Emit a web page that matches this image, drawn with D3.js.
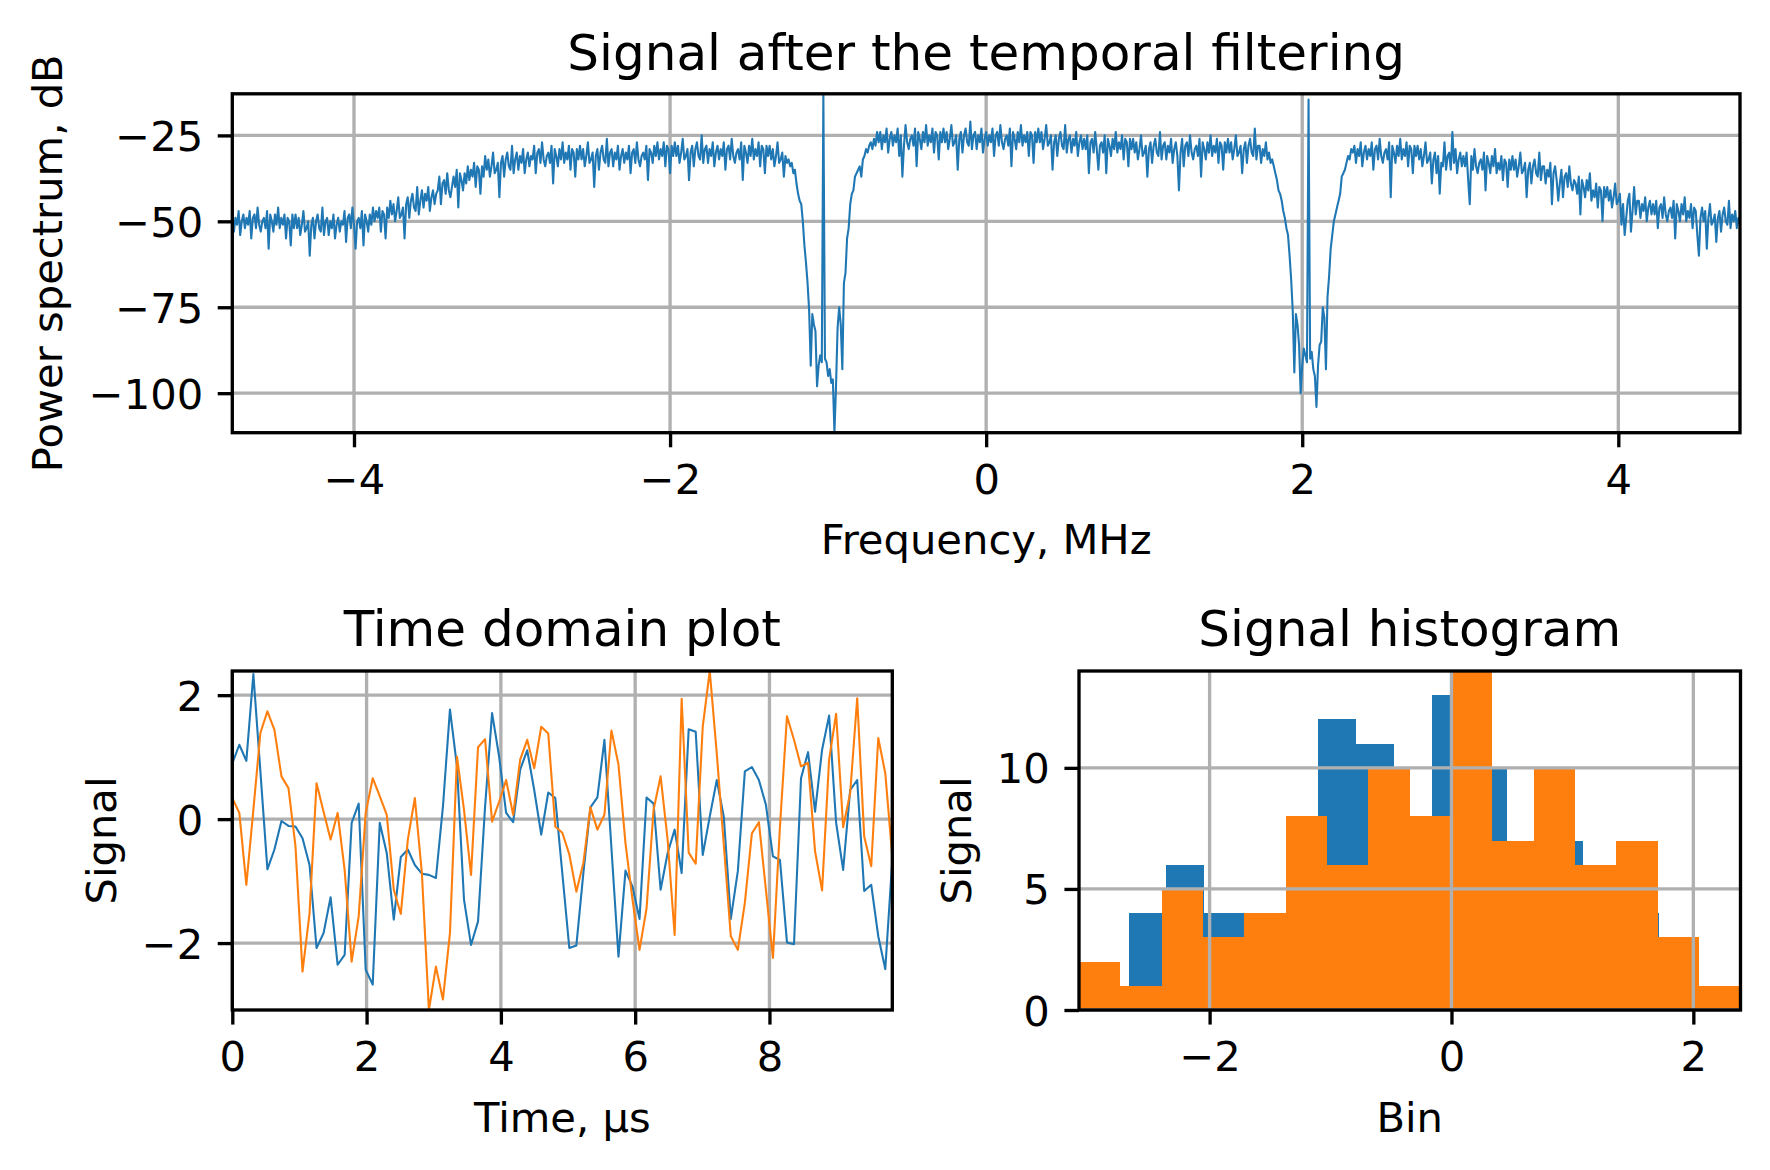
<!DOCTYPE html>
<html><head><meta charset="utf-8">
<script src="https://cdn.jsdelivr.net/npm/d3@7"></script>
<style>body{margin:0;background:#fff}</style>
</head><body><svg id="c" width="1770" height="1170" xmlns="http://www.w3.org/2000/svg"></svg>
<script>
// ---------------- data ----------------
const specStartMHz = -4.77;
const specStepMHz = 0.01;
const spectrumDb = [
-48,-53,-49,-51,-47,-54,-50,-48,-52,-49,
-51,-47,-55,-49,-48,-52,-46,-51,-53,-50,
-49,-52,-47,-58,-48,-50,-53,-48,-51,-46,
-52,-49,-51,-48,-55,-49,-50,-57,-48,-52,
-48,-52,-49,-54,-51,-47,-53,-52,-50,-60,
-51,-49,-55,-50,-48,-52,-53,-46,-54,-50,
-49,-54,-50,-52,-48,-55,-51,-49,-53,-50,
-51,-47,-56,-49,-48,-52,-46,-51,-58,-50,
-49,-52,-47,-57,-48,-50,-53,-48,-51,-46,
-50,-47,-49,-46,-53,-47,-48,-55,-46,-49,
-44,-48,-45,-50,-47,-43,-49,-48,-46,-55,
-45,-43,-49,-44,-42,-46,-47,-40,-48,-44,
-41,-46,-42,-44,-40,-47,-43,-41,-45,-42,
-41,-37,-45,-39,-38,-42,-36,-41,-43,-40,
-37,-40,-35,-46,-36,-38,-41,-36,-39,-34,
-38,-35,-37,-33,-40,-34,-35,-42,-34,-37,
-31,-35,-32,-37,-34,-30,-36,-35,-33,-43,
-33,-31,-37,-32,-30,-34,-35,-28,-36,-32,
-30,-35,-31,-33,-29,-36,-32,-30,-34,-31,
-32,-28,-36,-30,-29,-33,-27,-32,-34,-31,
-30,-33,-28,-39,-29,-31,-34,-29,-32,-27,
-33,-30,-32,-28,-35,-29,-30,-37,-29,-32,
-28,-32,-29,-34,-31,-27,-33,-32,-30,-40,
-31,-29,-35,-30,-28,-32,-33,-26,-34,-30,
-29,-34,-30,-32,-28,-35,-31,-29,-33,-30,
-32,-28,-36,-30,-29,-33,-27,-32,-34,-31,
-30,-32,-28,-38,-29,-30,-33,-28,-31,-27,
-32,-29,-31,-27,-34,-28,-29,-36,-28,-31,
-27,-31,-28,-33,-30,-26,-32,-31,-29,-38,
-30,-28,-34,-29,-27,-31,-32,-25,-33,-29,
-28,-33,-29,-31,-27,-34,-30,-28,-32,-29,
-31,-27,-35,-29,-28,-32,-26,-31,-33,-30,
-29,-32,-27,-38,-28,-30,-33,-28,-31,-26,
-32,-29,-31,-27,-34,-28,-29,-36,-28,-31,
-28,-32,-29,-34,-31,-27,-33,-32,-30,-37,
-31,-33,-32,-34,-33,-36,-35,-39,-42,-44,
-45,-50,-57,-62,-68,-76,-92,-77,-80,-82,
-98,-92,-89,-91,-12.9,-90,-91,-95,-93,-97,
-96,-111.5,-98,-81,-75,-80,-93,-68,-65,-55,
-52,-45,-42,-41,-37,-36,-35,-34,-37,-32,
-31,-29,-30,-28,-27,-29,-26,-28,-24,-27,
-24,-29,-25,-27,-23,-30,-26,-24,-28,-25,
-27,-23,-31,-25,-37,-28,-22,-27,-29,-26,
-25,-28,-23,-34,-24,-26,-29,-24,-27,-22,
-28,-25,-27,-23,-30,-24,-25,-32,-24,-27,
-23,-27,-24,-29,-26,-22,-28,-27,-25,-35,
-26,-24,-30,-25,-23,-27,-28,-21,-29,-25,
-24,-29,-25,-27,-23,-30,-26,-24,-28,-25,
-27,-23,-31,-25,-24,-28,-22,-27,-29,-26,
-25,-28,-23,-34,-24,-26,-29,-24,-27,-22,
-28,-25,-27,-24,-31,-24,-25,-33,-24,-27,
-23,-27,-24,-29,-26,-22,-28,-27,-25,-35,
-27,-25,-31,-26,-24,-28,-29,-22,-30,-26,
-25,-30,-26,-28,-24,-31,-27,-25,-29,-26,
-29,-25,-36,-27,-26,-30,-24,-29,-35,-28,
-27,-30,-25,-36,-26,-28,-31,-26,-29,-24,
-30,-27,-29,-25,-32,-26,-27,-34,-26,-29,
-26,-30,-27,-32,-29,-25,-31,-30,-28,-37,
-29,-27,-33,-28,-26,-30,-31,-24,-32,-28,
-27,-32,-28,-30,-26,-33,-29,-27,-31,-41,
-30,-26,-34,-28,-27,-31,-25,-30,-32,-29,
-28,-31,-26,-37,-27,-29,-32,-27,-30,-25,
-31,-28,-30,-26,-33,-27,-28,-35,-27,-30,
-26,-30,-27,-32,-29,-25,-31,-30,-28,-36,
-29,-27,-33,-28,-26,-30,-31,-23,-32,-28,
-28,-33,-29,-31,-27,-32,-30,-33,-32,-34,
-36,-38,-41,-42,-44,-47,-49,-52,-54,-60,
-67,-76,-94,-77,-80,-86,-100,-92,-87,-89,
-91,-14.6,-90,-88,-93,-95,-104,-92,-86,-85,
-75,-78,-93,-72,-66,-58,-54,-50,-48,-46,
-44,-42,-37,-36,-35,-33,-31,-32,-29,-30,
-28,-33,-29,-31,-27,-34,-30,-28,-32,-29,
-31,-27,-35,-29,-28,-32,-26,-31,-33,-30,
-29,-32,-27,-43,-28,-30,-33,-28,-31,-26,
-32,-29,-31,-27,-34,-28,-29,-36,-28,-31,
-28,-32,-29,-34,-31,-27,-33,-32,-30,-39,
-32,-30,-36,-31,-42,-33,-34,-27,-35,-31,
-30,-35,-24,-33,-29,-36,-32,-30,-34,-31,
-34,-30,-38,-45,-31,-35,-29,-34,-36,-33,
-32,-35,-30,-41,-31,-33,-36,-31,-34,-29,
-36,-33,-35,-31,-38,-32,-33,-40,-32,-35,
-31,-35,-32,-37,-34,-30,-36,-35,-33,-43,
-35,-33,-39,-34,-32,-36,-37,-30,-38,-34,
-34,-39,-35,-37,-33,-45,-36,-34,-38,-44,
-39,-35,-43,-37,-36,-40,-34,-39,-41,-38,
-39,-42,-37,-48,-38,-40,-43,-38,-41,-36,
-44,-41,-43,-39,-46,-40,-41,-50,-40,-43,
-40,-44,-41,-46,-43,-39,-45,-44,-42,-51,
-45,-54,-49,-44,-42,-53,-47,-40,-48,-44,
-44,-49,-45,-47,-43,-50,-46,-44,-48,-45,
-48,-44,-52,-46,-45,-49,-43,-48,-50,-47,
-46,-49,-44,-55,-45,-47,-50,-45,-48,-43,
-50,-47,-49,-45,-52,-46,-47,-54,-60,-49,
-46,-50,-47,-58,-49,-45,-51,-50,-48,-56,
-49,-47,-53,-48,-46,-50,-51,-44,-52,-48,
-50,-47,-52,-49,-51
];

const sampleStepUs = 0.10457;
const signalBlue = [
0.90,1.20,0.94,2.34,0.77,-0.81,-0.49,-0.03,-0.11,-0.12,
-0.31,-0.74,-2.08,-1.84,-1.26,-2.35,-2.19,-0.06,0.25,-2.43,
-2.67,-0.06,-0.55,-1.62,-0.61,-0.49,-0.74,-0.88,-0.90,-0.95,
0.20,1.77,0.85,-1.30,-2.03,-1.65,0.20,1.71,1.01,0.10,
-0.05,0.80,1.11,0.47,-0.25,0.43,0.34,-0.87,-2.08,-2.04,
-0.87,0.19,0.35,1.28,-0.47,-2.22,-0.83,-1.09,-1.61,0.35,
0.25,-1.14,-0.55,-0.17,-0.87,1.45,1.41,-0.58,0.04,0.63,
0.04,-1.61,-0.84,0.77,0.84,0.63,0.23,-0.60,-0.66,-1.99,
-2.02,0.66,1.08,0.12,1.12,1.67,-0.06,-0.82,0.47,0.63,
-1.16,-1.06,-1.89,-2.42,-0.66
];
const signalOrange = [
0.34,0.10,-1.06,0.15,1.39,1.74,1.44,0.69,0.50,-0.44,
-2.46,-1.52,0.58,0.12,-0.33,0.10,-0.82,-2.30,-1.57,0.10,
0.66,0.37,0.07,-1.14,-1.53,-0.33,0.34,-0.87,-3.08,-2.38,
-2.91,-1.84,1.01,0.15,-0.90,1.16,1.29,-0.04,0.28,0.63,
0.07,0.96,1.28,0.82,1.49,1.38,-0.12,-0.22,-0.57,-1.17,
-0.71,0.19,-0.17,0.07,1.43,0.88,-0.39,-1.30,-2.11,-1.44,
0.15,0.69,-0.33,-1.87,1.94,-0.54,-0.72,1.49,2.39,1.06,
-0.41,-1.89,-2.11,-1.35,-0.23,-0.05,-1.14,-2.24,-0.12,1.66,
1.28,0.85,0.91,-0.52,-1.15,0.96,1.70,-0.13,0.42,1.95,
-0.28,-0.76,1.31,0.74,-0.60
];

const histBinCount = 16;
const histCountsBlue   = [4,6,4,4,4,12,11,3,13,10,7,7,4,4,1,1];
const histCountsOrange = [2,1,5,3,4,8,6,10,8,14,7,10,6,7,3,1];

const specXTicks = [-4,-2,0,2,4];
const specYTicks = [-100,-75,-50,-25];
const timeXTicks = [0,2,4,6,8];
const timeYTicks = [-2,0,2];
const histXTicks = [-2,0,2];
const histYTicks = [0,5,10];

// ---------------- style ----------------
const PT = 300/72;
const FS_TICK = 10*PT, FS_TITLE = 12*PT;
const TICK = 3.5*PT, PAD = 3.5*PT, LW = 0.8*PT;
const BLUE = '#1f77b4', ORANGE = '#ff7f0e', GRID = '#b0b0b0';
const FONT = 'DejaVu Sans';

const svg = d3.select('#c');
svg.append('rect').attr('width',1770).attr('height',1170).attr('fill','#fff');

const boxTop = {l:232.3, r:1740, t:93.8, b:432.7};
const boxTime = {l:232.3, r:892.3, t:671, b:1010};
const boxHist = {l:1079, r:1740.5, t:671, b:1010};

function drawGrid(box, x, y, xt, yt) {
  const g = svg.append('g').attr('stroke', GRID).attr('stroke-width', LW);
  xt.forEach(v => g.append('line').attr('x1', x(v)).attr('x2', x(v)).attr('y1', box.t).attr('y2', box.b));
  yt.forEach(v => g.append('line').attr('y1', y(v)).attr('y2', y(v)).attr('x1', box.l).attr('x2', box.r));
}

function drawAxes(box, x, y, xt, yt) {
  const fmt = d => d3.format('d')(d);
  const gx = svg.append('g').attr('transform', `translate(0,${box.b})`)
    .call(d3.axisBottom(x).tickValues(xt).tickSize(TICK).tickPadding(PAD).tickFormat(fmt));
  const gy = svg.append('g').attr('transform', `translate(${box.l},0)`)
    .call(d3.axisLeft(y).tickValues(yt).tickSize(TICK).tickPadding(PAD).tickFormat(fmt));
  [gx, gy].forEach(g => {
    g.select('.domain').remove();
    g.attr('font-size', FS_TICK).attr('font-family', FONT);
    g.selectAll('line').attr('stroke', '#000').attr('stroke-width', LW);
    g.selectAll('text').attr('fill', '#000');
  });
  gx.selectAll('text').attr('dy', '0.775em');
  gy.selectAll('text').attr('dy', '0.36em');
  svg.append('rect').attr('x', box.l).attr('y', box.t)
    .attr('width', box.r - box.l).attr('height', box.b - box.t)
    .attr('fill', 'none').attr('stroke', '#000').attr('stroke-width', LW);
}

function label(txt, x, y, size, rot) {
  const t = svg.append('text').attr('font-family', FONT).attr('font-size', size)
    .attr('text-anchor', 'middle').attr('fill', '#000').text(txt);
  if (rot) t.attr('transform', `translate(${x},${y}) rotate(-90)`);
  else t.attr('x', x).attr('y', y);
}

// ---------------- spectrum ----------------
const freqs = spectrumDb.map((_, i) => specStartMHz + i * specStepMHz);
const xs = d3.scaleLinear().domain(d3.extent(freqs)).range([boxTop.l, boxTop.r]);
const ys = d3.scaleLinear().domain(d3.extent(spectrumDb)).range([boxTop.b, boxTop.t]);
drawGrid(boxTop, xs, ys, specXTicks, specYTicks);
svg.append('path').datum(spectrumDb)
  .attr('d', d3.line().x((d, i) => xs(freqs[i])).y(d => ys(d)))
  .attr('fill', 'none').attr('stroke', BLUE).attr('stroke-width', 0.5*PT).attr('stroke-linejoin', 'round');
drawAxes(boxTop, xs, ys, specXTicks, specYTicks);
label('Signal after the temporal filtering', (boxTop.l + boxTop.r)/2, 70, FS_TITLE);
label('Frequency, MHz', (boxTop.l + boxTop.r)/2, boxTop.b + 121.7, FS_TICK);
label('Power spectrum, dB', 62, (boxTop.t + boxTop.b)/2, FS_TICK, true);

// ---------------- time domain ----------------
const times = signalBlue.map((_, i) => i * sampleStepUs);
const allSig = signalBlue.concat(signalOrange);
const xt = d3.scaleLinear().domain(d3.extent(times)).range([boxTime.l, boxTime.r]);
const yt = d3.scaleLinear().domain(d3.extent(allSig)).range([boxTime.b, boxTime.t]);
drawGrid(boxTime, xt, yt, timeXTicks, timeYTicks);
[[signalBlue, BLUE], [signalOrange, ORANGE]].forEach(([arr, col]) => {
  svg.append('path').datum(arr)
    .attr('d', d3.line().x((d, i) => xt(times[i])).y(d => yt(d)))
    .attr('fill', 'none').attr('stroke', col).attr('stroke-width', 0.5*PT).attr('stroke-linejoin', 'round');
});
drawAxes(boxTime, xt, yt, timeXTicks, timeYTicks);
label('Time domain plot', (boxTime.l + boxTime.r)/2, 646, FS_TITLE);
label('Time, µs', (boxTime.l + boxTime.r)/2, boxTime.b + 121.7, FS_TICK);
label('Signal', 116, (boxTime.t + boxTime.b)/2, FS_TICK, true);

// ---------------- histogram ----------------
function binEdges(arr) {
  const [lo, hi] = d3.extent(arr);
  return d3.range(histBinCount + 1).map(i => lo + i * (hi - lo) / histBinCount);
}
const edgesBlue = binEdges(signalBlue);
const edgesOrange = binEdges(signalOrange);
const xh = d3.scaleLinear().domain(d3.extent(allSig)).range([boxHist.l, boxHist.r]);
const yh = d3.scaleLinear().domain([0, d3.max(histCountsBlue.concat(histCountsOrange))]).range([boxHist.b, boxHist.t]);
[[histCountsBlue, edgesBlue, BLUE], [histCountsOrange, edgesOrange, ORANGE]].forEach(([counts, edges, col]) => {
  svg.append('g').selectAll('rect').data(counts).join('rect')
    .attr('x', (d, i) => xh(edges[i]))
    .attr('width', (d, i) => xh(edges[i + 1]) - xh(edges[i]))
    .attr('y', d => yh(d))
    .attr('height', d => yh(0) - yh(d))
    .attr('fill', col).attr('shape-rendering', 'crispEdges');
});
drawGrid(boxHist, xh, yh, histXTicks, histYTicks);
drawAxes(boxHist, xh, yh, histXTicks, histYTicks);
label('Signal histogram', (boxHist.l + boxHist.r)/2, 646, FS_TITLE);
label('Bin', (boxHist.l + boxHist.r)/2, boxHist.b + 121.7, FS_TICK);
label('Signal', 971, (boxHist.t + boxHist.b)/2, FS_TICK, true);
</script>
</body></html>
